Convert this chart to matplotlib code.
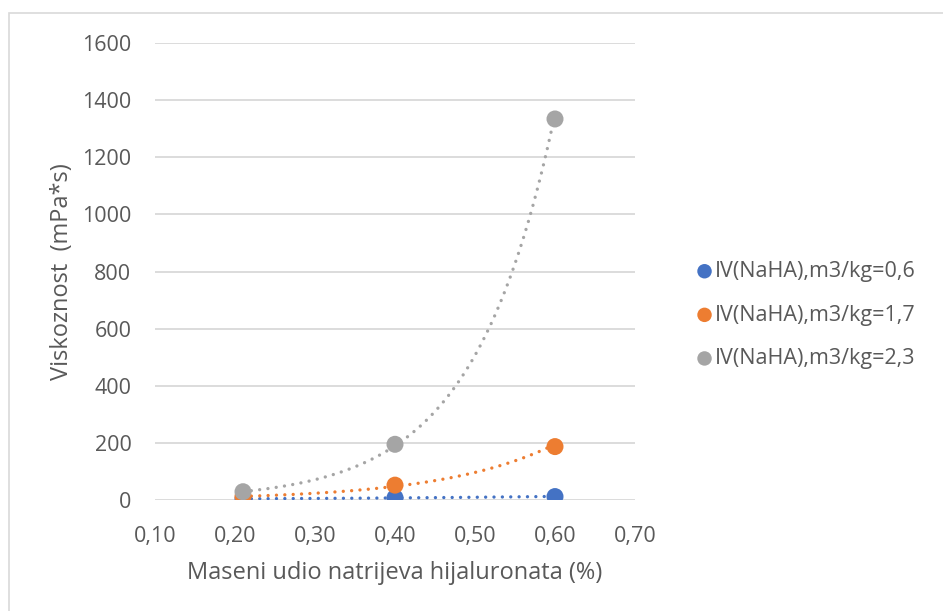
import numpy as np
import matplotlib
matplotlib.use("Agg")
import matplotlib.pyplot as plt
from matplotlib.patches import Rectangle

x_vals = [0.21, 0.40, 0.60]
series_names = ["IV(NaHA),m3/kg=0,6", "IV(NaHA),m3/kg=1,7", "IV(NaHA),m3/kg=2,3"]
y_blue = [4, 8, 12]
y_orange = [12, 52, 187]
y_gray = [29, 195, 1334]
colors = ["#4472C4", "#ED7D31", "#A5A5A5"]
x_ticks = [0.10, 0.20, 0.30, 0.40, 0.50, 0.60, 0.70]
y_ticks = [0, 200, 400, 600, 800, 1000, 1200, 1400, 1600]

plt.rcParams['font.family'] = ['Open Sans', 'DejaVu Sans']
txt = "#595959"

fig = plt.figure(figsize=(9.43, 6.11), dpi=100)
W, H = 943, 611
ax = fig.add_axes([155 / W, 1 - 500 / H, 480 / W, 457 / H])

fig.patches.append(Rectangle((9 / W, -0.1), 1.2, 1 - 13 / H + 0.1, transform=fig.transFigure,
                             fill=False, edgecolor="#d9d9d9", linewidth=1.2))

xs = np.array(x_vals)
for ys, c, name in zip([y_blue, y_orange, y_gray], colors, series_names):
    ys = np.array(ys, dtype=float)
    b, lna = np.polyfit(xs, np.log(ys), 1)
    xf = np.linspace(xs.min(), xs.max(), 200)
    ax.plot(xf, np.exp(lna + b * xf), color=c, linewidth=2.4, linestyle=(0, (0.01, 2.5)),
            dash_capstyle='round', zorder=2)
    ax.scatter(xs, ys, s=150, color=c, zorder=3, label=name, edgecolors='none')

ax.set_xlim(0.10, 0.70)
ax.set_ylim(0, 1600)
ax.set_xticks(x_ticks)
ax.set_xticklabels([f"{t:.2f}".replace(".", ",") for t in x_ticks])
ax.set_yticks(y_ticks)
ax.set_yticklabels([str(t) for t in y_ticks])
ax.grid(axis='y', color="#d9d9d9", linewidth=1.3)
ax.set_axisbelow(True)
for s in ax.spines.values():
    s.set_visible(False)
ax.tick_params(axis='both', length=0, colors=txt, labelsize=15.5)
ax.tick_params(axis='x', pad=19)
ax.tick_params(axis='y', pad=17)
ax.set_xlabel("Maseni udio natrijeva hijaluronata (%)", color=txt, fontsize=17, labelpad=10)
ax.set_ylabel("Viskoznost  (mPa*s)", color=txt, fontsize=17, va='center')
ax.yaxis.set_label_coords((62 - 155) / 480, 0.5)

leg = ax.legend(loc='center left', bbox_to_anchor=(683 / W, 1 - 315 / H), bbox_transform=fig.transFigure,
                frameon=False, fontsize=15.5, handletextpad=-0.5, labelspacing=1.05,
                markerscale=0.85, borderaxespad=0, borderpad=0)
for t in leg.get_texts():
    t.set_color(txt)

fig.savefig("out.png", dpi=100)
